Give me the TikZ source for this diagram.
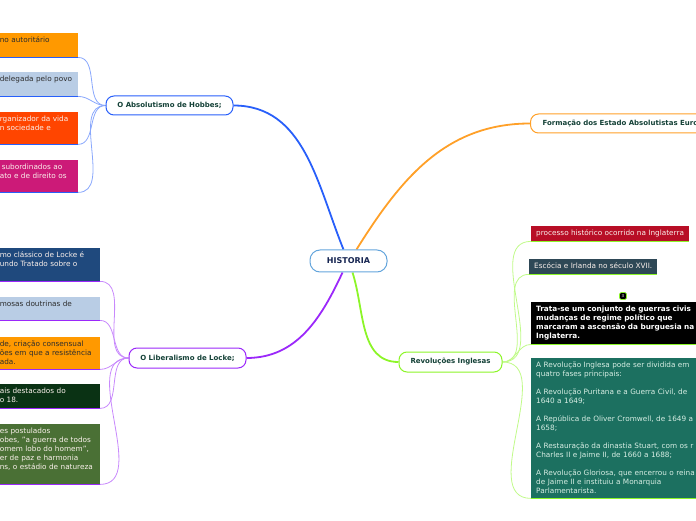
\documentclass[tikz,border=0pt]{standalone}
\usepackage{fontspec}
\setmainfont{DejaVu Sans}
\usetikzlibrary{positioning,backgrounds}

\definecolor{hobline}{RGB}{40,95,250}
\definecolor{locline}{RGB}{155,40,250}
\definecolor{revline}{RGB}{140,245,40}
\definecolor{formline}{RGB}{255,160,40}
\definecolor{histline}{RGB}{100,165,220}
\definecolor{topictext}{RGB}{20,65,55}
\definecolor{histtext}{RGB}{20,35,80}
\definecolor{leafdark}{RGB}{45,45,45}
\definecolor{leaflight}{RGB}{250,240,235}
\definecolor{tealtext}{RGB}{215,238,228}
\definecolor{boxorange}{RGB}{255,153,0}
\definecolor{boxpale}{RGB}{185,205,229}
\definecolor{boxred}{RGB}{255,69,0}
\definecolor{boxmagenta}{RGB}{204,26,120}
\definecolor{boxnavy}{RGB}{31,73,125}
\definecolor{boxforest}{RGB}{10,50,20}
\definecolor{boxolive}{RGB}{74,112,53}
\definecolor{boxcrimson}{RGB}{184,14,38}
\definecolor{boxslate}{RGB}{46,72,86}
\definecolor{boxteal}{RGB}{28,112,96}

\tikzset{
  topic/.style={draw=#1, line width=1pt, rounded corners=8pt, fill=white, inner sep=0pt,
    minimum height=19pt, text=topictext, font=\fontsize{7}{9}\selectfont\bfseries},
  leaf/.style={fill=#1, inner xsep=5pt, inner ysep=0pt, text height=9.5pt, align=left,
    font=\fontsize{7.3}{9}\selectfont},
  rim/.style={draw=#1, line width=1.5pt},
  branch/.style={draw=#1, line width=1.8pt},
  twig/.style={draw=#1!55, line width=0.8pt},
  badge/.style={fill=black, draw=revline, line width=0.6pt, rounded corners=1.5pt, minimum size=7pt,
    inner sep=0pt, text=white, font=\fontsize{4}{4}\selectfont},
}

\begin{document}
\begin{tikzpicture}[x=1pt, y=1pt]
\useasboundingbox (0,0) rectangle (696,520);
\clip (0,0) rectangle (696,520);

% topics
\node[topic=histline, minimum width=77pt, minimum height=22pt, rounded corners=10pt, text=histtext,
  font=\fontsize{8}{10}\selectfont\bfseries] (hist) at (348.5,259) {HISTORIA};
\node[topic=hobline, minimum width=127pt] (hob) at (169.5,414.5) {O Absolutismo de Hobbes;};
\node[topic=formline, anchor=west, text width=180pt, align=left, inner xsep=12pt] (form) at (530,396.5) {Formação dos Estado Absolutistas Euro};
\node[topic=locline, minimum width=117pt, minimum height=20pt] (loc) at (187.5,162) {O Liberalismo de Locke;};
\node[topic=revline, minimum width=103pt, minimum height=20pt] (rev) at (450.5,158) {Revoluções Inglesas};

% Hobbes
\node[leaf=boxorange, text=leafdark, text width=73pt, text depth=14.5pt, anchor=north east] (hob1) at (78,487) {no autoritário};
\node[leaf=boxpale, text=leafdark, text width=73pt, text depth=14.5pt, anchor=north east] (hob2) at (78,448) {delegada pelo povo};
\node[leaf=boxred, text=leaflight, text width=73pt, text depth=22.5pt, anchor=north east] (hob3) at (78,408) {rganizador da vida\\n sociedade e};
\node[leaf=boxmagenta, text=leaflight, text width=73pt, text depth=22.5pt, anchor=north east] (hob4) at (78,360) {\hspace{2pt}subordinados ao\\ato e de direito os};

% Locke
\node[leaf=boxnavy, text=leaflight, text width=95pt, text depth=23.5pt, anchor=north east] (loc1) at (100,272) {mo clássico de Locke é\\undo Tratado sobre o};
\node[leaf=boxpale, text=leafdark, text width=95pt, text depth=13.5pt, anchor=north east] (loc2) at (100,223) {mosas doutrinas de};
\node[leaf=boxorange, text=leafdark, text width=95pt, text depth=22.5pt, anchor=north east] (loc3) at (100,183) {de, criação consensual\\ões em que a resistência\\ada.};
\node[leaf=boxforest, text=leaflight, text width=95pt, text depth=14.5pt, anchor=north east] (loc4) at (100,136) {ais destacados do\\o 18.};
\node[leaf=boxolive, text=leaflight, text width=95pt, text depth=50.5pt, anchor=north east] (loc5) at (100,96) {es postulados\\obes, "a guerra de todos\\omem lobo do homem",\\er de paz e harmonia\\ns, o estádio de natureza};

% Revolucoes
\node[leaf=boxcrimson, text=leaflight, text depth=5.5pt, anchor=north west] (rev1) at (531,294) {processo histórico ocorrido na Inglaterra};
\node[leaf=boxslate, text=leaflight, text depth=5.5pt, anchor=north west] (rev2) at (529,261) {Escócia e Irlanda no século XVII.};
\node[badge] (num) at (623,224) {3};
\node[leaf=black, text=white, text width=200pt, text depth=32.5pt, anchor=north west, font=\fontsize{7.3}{9}\selectfont\bfseries] (rev3) at (531,218) {Trata-se um conjunto de guerras civis\\mudanças de regime político que\\marcaram a ascensão da burguesia na\\Inglaterra.};
\node[leaf=boxteal, text=tealtext, text width=200pt, text depth=130.5pt, anchor=north west] (rev4) at (531,162) {A Revolução Inglesa pode ser dividida em\\quatro fases principais:\\[9pt]A Revolução Puritana e a Guerra Civil, de\\1640 a 1649;\\[9pt]A República de Oliver Cromwell, de 1649 a\\1658;\\[9pt]A Restauração da dinastia Stuart, com os r\\Charles II e Jaime II, de 1660 a 1688;\\[9pt]A Revolução Gloriosa, que encerrou o reina\\de Jaime II e instituiu a Monarquia\\Parlamentarista.};

% coloured lower edges
\foreach \n in {hob1,hob2,hob3,hob4}
  \draw[rim=hobline] (\n.south west) -- (\n.south east);
\foreach \n in {loc1,loc2,loc3,loc4,loc5}
  \draw[rim=locline] (\n.south west) -- (\n.south east);
\foreach \n in {rev1,rev2,rev3,rev4}
  \draw[rim=revline] (\n.south west) -- (\n.south east);

% connectors
\begin{scope}[on background layer]
  \draw[branch=hobline] ([xshift=-5pt]hist.north) to[out=112,in=0] (hob.east);
  \draw[branch=formline] ([xshift=8pt]hist.north) to[out=58,in=180] (form.west);
  \draw[branch=locline] ([xshift=-6pt]hist.south) to[out=-115,in=0] (loc.east);
  \draw[branch=revline] ([xshift=4pt]hist.south) to[out=-72,in=180] (rev.west);
  \foreach \n in {hob1,hob2,hob3,hob4}
    \draw[twig=hobline] (hob.west) to[out=180,in=0] (\n.south east);
  \foreach \n in {loc1,loc2,loc3,loc4,loc5}
    \draw[twig=locline] (loc.west) to[out=180,in=0] (\n.south east);
  \foreach \n in {rev1,rev2,rev3,rev4}
    \draw[twig=revline] (rev.east) to[out=0,in=180] (\n.south west);
\end{scope}
\end{tikzpicture}
\end{document}
